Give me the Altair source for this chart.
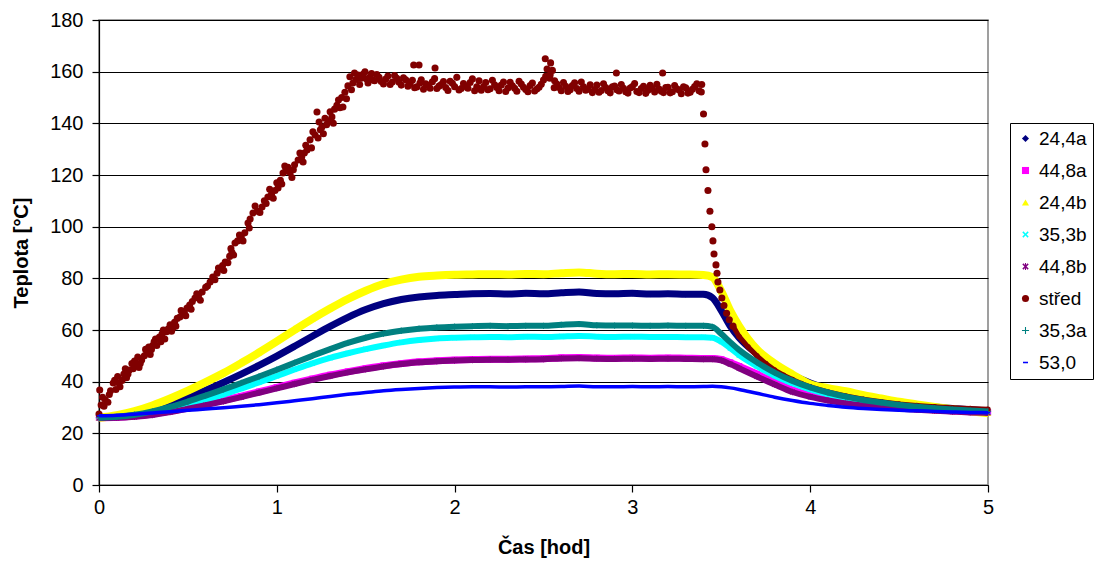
import altair as alt
import pandas as pd

# Sampling times [h] shared by the probe series
hours = [0.0, 0.1, 0.2, 0.3, 0.4, 0.5, 0.6, 0.7, 0.8, 0.9,
         1.0, 1.1, 1.2, 1.3, 1.4, 1.5, 1.6, 1.7, 1.8, 1.9,
         2.0, 2.1, 2.2, 2.3, 2.4, 2.5, 2.6, 2.7, 2.8, 2.9,
         3.0, 3.1, 3.2, 3.3, 3.4, 3.45, 3.5, 3.55, 3.6,
         3.7, 3.8, 3.9, 4.0, 4.1, 4.2, 4.3, 4.4, 4.5, 4.6, 4.7, 4.8, 4.9, 5.0]

temp_24_4a = [26.0, 26.5, 27.6, 29.3, 31.4, 33.9, 36.7, 39.7, 42.9, 46.3,
              49.9, 53.7, 57.6, 61.4, 64.9, 67.9, 70.2, 71.8, 72.8, 73.4,
              73.7, 74.0, 74.1, 73.9, 74.2, 74.0, 74.4, 74.7, 74.1, 74.0,
              74.2, 73.9, 74.0, 73.8, 73.8, 72.5, 67.5, 61.5, 57.0,
              50.8, 46.2, 42.5, 39.5, 37.2, 35.4, 33.9, 32.7, 31.7, 30.9, 30.2, 29.6, 29.1, 28.7]

temp_44_8a = [26.0, 26.2, 26.7, 27.5, 28.6, 29.9, 31.3, 32.8, 34.4, 36.1,
              37.8, 39.5, 41.1, 42.6, 43.9, 45.1, 46.2, 47.0, 47.7, 48.1,
              48.4, 48.6, 48.7, 48.7, 48.8, 48.9, 49.3, 49.4, 49.2, 49.1,
              49.2, 49.1, 49.2, 49.1, 49.0, 49.0, 48.6, 47.4, 46.0,
              43.0, 39.8, 36.8, 34.8, 33.3, 32.2, 31.3, 30.6, 30.0, 29.5, 29.1, 28.7, 28.4, 28.1]

temp_24_4b = [26.0, 27.0, 28.6, 30.8, 33.5, 36.5, 39.8, 43.3, 47.2, 51.3,
              55.6, 60.0, 64.3, 68.3, 72.0, 75.2, 77.8, 79.5, 80.6, 81.1,
              81.4, 81.5, 81.6, 81.5, 81.7, 81.6, 82.0, 82.3, 81.8, 81.6,
              81.7, 81.5, 81.6, 81.5, 81.3, 80.5, 75.0, 67.5, 61.5,
              52.5, 47.0, 42.8, 39.0, 37.5, 36.3, 34.8, 33.5, 32.2, 31.2, 30.2, 29.3, 28.5, 27.8]

temp_35_3b = [26.0, 26.3, 26.9, 27.9, 29.3, 31.0, 32.9, 35.0, 37.3, 39.7,
              42.2, 44.7, 47.1, 49.2, 51.0, 52.6, 54.0, 55.2, 56.1, 56.7,
              57.0, 57.2, 57.3, 57.2, 57.4, 57.3, 57.5, 57.7, 57.4, 57.3,
              57.4, 57.3, 57.3, 57.2, 57.2, 57.0, 55.5, 53.0, 50.3,
              46.0, 42.3, 39.4, 37.0, 35.1, 33.6, 32.4, 31.4, 30.6, 29.9, 29.4, 28.9, 28.5, 28.2]

temp_44_8b = [25.9, 26.0, 26.4, 27.1, 28.2, 29.5, 30.9, 32.4, 34.0, 35.7,
              37.4, 39.1, 40.7, 42.2, 43.6, 44.8, 45.9, 46.8, 47.5, 47.9,
              48.2, 48.4, 48.5, 48.5, 48.6, 48.7, 49.0, 49.1, 48.9, 48.8,
              48.9, 48.8, 48.9, 48.8, 48.7, 48.7, 48.2, 46.8, 45.2,
              42.0, 38.9, 36.0, 34.1, 32.7, 31.6, 30.8, 30.1, 29.6, 29.1, 28.7, 28.4, 28.1, 27.9]

temp_35_3a = [26.0, 26.4, 27.2, 28.5, 30.2, 32.3, 34.6, 37.0, 39.5, 42.0,
              44.6, 47.3, 50.0, 52.6, 55.0, 57.0, 58.6, 59.7, 60.5, 61.0,
              61.3, 61.5, 61.6, 61.5, 61.6, 61.6, 62.0, 62.3, 61.8, 61.7,
              61.7, 61.6, 61.7, 61.6, 61.6, 61.2, 58.5, 55.3, 52.3,
              47.5, 43.5, 40.3, 37.8, 35.8, 34.2, 32.9, 31.9, 31.0, 30.3, 29.7, 29.2, 28.8, 28.5]

temp_53_0 = [26.8, 27.0, 27.4, 27.9, 28.4, 28.9, 29.4, 29.9, 30.5, 31.1,
             31.8, 32.6, 33.4, 34.3, 35.1, 35.8, 36.5, 37.0, 37.4, 37.7,
             37.9, 38.0, 38.0, 37.9, 38.0, 38.0, 38.1, 38.3, 38.0, 38.0,
             38.1, 38.0, 38.1, 38.0, 38.1, 38.2, 38.0, 37.6, 37.0,
             35.5, 34.0, 32.7, 31.6, 30.8, 30.1, 29.6, 29.2, 28.9, 28.7, 28.5, 28.3, 28.1, 28.0]

# Centre probe ("střed"): individual readings
stred_hours = [0.000, 0.004, 0.012, 0.020, 0.035, 0.050, 0.065, 0.080, 0.095, 0.105,
               0.118, 0.130, 0.140, 0.155, 0.170, 0.185, 0.200, 0.210, 0.225, 0.240,
               0.255, 0.270, 0.280, 0.295, 0.310, 0.325, 0.340, 0.355, 0.370, 0.380,
               0.390, 0.400, 0.415, 0.425, 0.440, 0.455, 0.470, 0.480, 0.495, 0.510,
               0.525, 0.540, 0.560, 0.580, 0.600, 0.625, 0.640, 0.664, 0.680, 0.695,
               0.710, 0.725, 0.735, 0.748, 0.765, 0.780, 0.800, 0.820, 0.838, 0.850,
               0.866, 0.890, 0.917, 0.930, 0.950, 0.970, 0.990, 1.007, 1.020, 1.035,
               1.050, 1.063, 1.075, 1.085, 1.100, 1.120, 1.140, 1.155, 1.170, 1.187,
               1.203, 1.215, 1.226, 1.232, 1.245, 1.254, 1.271, 1.290, 1.310, 1.325,
               1.338, 1.355, 1.372, 1.383, 1.400, 1.411, 1.428, 1.445, 1.457, 1.475,
               1.496, 1.513, 1.525, 1.541,
               1.550, 1.575, 1.600, 1.625, 1.650, 1.675, 1.700, 1.725, 1.750, 1.770,
               1.775, 1.800, 1.805, 1.825, 1.850, 1.875, 1.890, 1.900, 1.925, 1.950,
               1.975, 2.000, 2.025, 2.050, 2.075, 2.100, 2.125, 2.150, 2.175, 2.200,
               2.225, 2.250, 2.275, 2.300, 2.325, 2.350, 2.375, 2.400, 2.425, 2.450,
               2.475, 2.500, 2.510, 2.520, 2.535, 2.540, 2.550, 2.560, 2.575, 2.600,
               2.625, 2.650, 2.675, 2.700, 2.725, 2.750, 2.775, 2.800, 2.825, 2.850,
               2.875, 2.900, 2.910, 2.925, 2.950, 2.975, 3.000, 3.025, 3.050, 3.075,
               3.100, 3.125, 3.150, 3.170, 3.175, 3.200, 3.225, 3.250, 3.275, 3.300,
               3.325, 3.350, 3.375, 3.390,
               3.400, 3.408, 3.414, 3.425, 3.436, 3.447, 3.453, 3.459, 3.470, 3.476,
               3.481, 3.492, 3.503, 3.515, 3.530, 3.545, 3.566]
stred_temp = [27.5, 36.8, 31.0, 34.0, 33.0, 32.0, 36.5, 39.5, 37.0, 42.0,
              38.0, 40.5, 43.0, 41.5, 44.5, 47.0, 48.0, 46.5, 45.5, 48.4,
              50.0, 51.5, 53.4, 52.5, 55.4, 54.0, 57.3, 58.5, 56.5, 59.3,
              60.5, 62.0, 60.8, 63.0, 64.5, 65.0, 66.3, 67.0, 68.5, 69.7,
              71.0, 72.4, 73.5, 74.7, 76.5, 78.6, 80.5, 82.0, 83.5, 85.0,
              86.3, 86.0, 88.5, 90.0, 93.7, 94.5, 96.0, 97.6, 101.4, 103.0,
              105.3, 106.0, 107.6, 110.0, 111.5, 112.5, 114.0, 115.0, 118.0, 120.8,
              121.5, 123.0, 121.0, 119.0, 124.0, 125.8, 127.0, 128.5, 129.7, 133.6,
              136.7, 135.5, 144.4, 134.3, 137.5, 138.6, 142.0, 141.0, 142.5, 145.5,
              147.0, 146.0, 146.3, 152.0, 154.5, 158.0, 155.6, 157.0, 158.7, 157.5,
              160.0, 155.6, 158.0, 156.8,
              156.5, 157.8, 155.2, 158.3, 156.0, 157.4, 154.8, 156.9, 155.3, 162.6,
              153.8, 162.6, 155.6, 153.2, 154.7, 156.1, 161.4, 153.5, 155.0, 153.9,
              156.3, 154.2, 152.9, 155.4, 153.6, 157.2, 154.1, 152.8, 155.8, 153.4,
              154.9, 152.6, 156.0, 153.7, 154.5, 152.4, 155.2, 153.1, 154.6, 152.5,
              154.0, 156.8, 165.0, 161.0, 157.5, 163.4, 160.5, 153.8, 155.2, 152.6,
              154.3, 153.0, 155.7, 152.4, 154.1, 153.2, 151.9, 154.8, 152.7, 153.9,
              151.8, 154.4, 159.5, 152.5, 153.6, 151.7, 154.2, 152.3, 153.5, 151.6,
              154.7, 152.1, 153.3, 159.5, 151.9, 154.0, 152.2, 153.4, 151.5, 153.8,
              152.0, 154.2, 152.6, 155.0,
              143.6, 132.0, 122.0, 114.0, 106.0, 100.0, 94.5, 89.4, 85.2, 82.0,
              78.6, 75.5, 72.4, 69.5, 66.5, 64.0, 61.5]

# Additional centre-probe readings between the ones above
stred_more_hours = [0.028, 0.058, 0.088, 0.112, 0.148, 0.163, 0.192, 0.218, 0.232, 0.262,
                    0.288, 0.302, 0.318, 0.348, 0.362, 0.408, 0.432, 0.462, 0.488, 0.518,
                    0.550, 0.570, 0.610, 0.652, 0.672, 0.702, 0.742, 0.757, 0.790, 0.810,
                    0.845, 0.878, 0.905, 0.940, 0.960, 0.980, 1.000, 1.028, 1.045, 1.093,
                    1.130, 1.148, 1.163, 1.195, 1.238, 1.262, 1.280, 1.300, 1.318, 1.347,
                    1.365, 1.392, 1.420, 1.437, 1.466, 1.485, 1.505, 1.533,
                    1.5625, 1.5875, 1.6125, 1.6375, 1.6625, 1.6875, 1.7125, 1.7375, 1.7625, 1.7875,
                    1.8125, 1.8375, 1.8625, 1.8875, 1.9125, 1.9375, 1.9625, 1.9875, 2.0125, 2.0375,
                    2.0625, 2.0875, 2.1125, 2.1375, 2.1625, 2.1875, 2.2125, 2.2375, 2.2625, 2.2875,
                    2.3125, 2.3375, 2.3625, 2.3875, 2.4125, 2.4375, 2.4625, 2.4875, 2.5125, 2.5375,
                    2.5625, 2.5875, 2.6125, 2.6375, 2.6625, 2.6875, 2.7125, 2.7375, 2.7625, 2.7875,
                    2.8125, 2.8375, 2.8625, 2.8875, 2.9125, 2.9375, 2.9625, 2.9875, 3.0125, 3.0375,
                    3.0625, 3.0875, 3.1125, 3.1375, 3.1625, 3.1875, 3.2125, 3.2375, 3.2625, 3.2875,
                    3.3125, 3.3375, 3.3625, 3.3875]
stred_more_temp = [30.5, 35.0, 40.5, 39.5, 45.0, 43.0, 45.0, 49.5, 47.0, 52.5,
                   50.5, 54.0, 56.5, 55.5, 60.0, 59.5, 61.5, 67.5, 65.5, 68.0,
                   74.0, 71.5, 77.0, 79.5, 84.0, 83.0, 91.5, 89.0, 96.8, 94.5,
                   99.5, 108.0, 105.5, 109.0, 114.5, 111.0, 117.0, 116.5, 123.5, 122.0,
                   128.5, 125.0, 131.5, 130.5, 140.5, 136.0, 139.5, 144.5, 140.0, 149.0,
                   150.0, 149.5, 153.0, 159.5, 155.0, 159.0, 157.2, 159.3,
                   158.9, 156.2, 157.1, 155.0, 158.5, 155.9, 157.6, 154.4, 156.7, 154.1,
                   156.9, 155.3, 153.6, 157.3, 154.4, 156.2, 152.7, 155.5, 157.8, 153.5,
                   154.3, 155.8, 152.6, 156.5, 154.2, 153.0, 156.7, 153.9, 154.8, 152.3,
                   155.9, 153.6, 156.3, 154.0, 152.2, 155.6, 153.3, 155.1, 158.2, 158.8,
                   156.5, 153.9, 155.8, 152.3, 154.6, 153.5, 156.0, 152.8, 154.9, 153.1,
                   152.0, 155.3, 152.6, 154.1, 153.0, 155.0, 152.2, 153.7, 155.4, 151.9,
                   154.3, 152.8, 153.5, 155.1, 152.4, 153.9, 151.8, 154.6, 152.9, 154.1,
                   151.7, 153.2, 155.3, 152.1]

# Centre probe cooling tail (dense readings merge into a line)
stred_tail_hours = [3.566, 3.60, 3.65, 3.70, 3.75, 3.80, 3.85, 3.90, 3.95, 4.00,
                    4.10, 4.20, 4.30, 4.40, 4.50, 4.60, 4.70, 4.80, 4.90, 5.00]
stred_tail_temp = [61.5, 57.5, 53.5, 50.0, 47.0, 44.5, 42.5, 40.8, 39.3, 38.0,
                   36.0, 34.5, 33.2, 32.2, 31.4, 30.8, 30.3, 29.9, 29.6, 29.3]

series_names = ["24,4a", "44,8a", "24,4b", "35,3b", "44,8b", "střed", "35,3a", "53,0"]
series_colors = ["#000080", "#FF00FF", "#FFFF00", "#00FFFF", "#800080", "#800000", "#008080", "#0000FF"]

X_PATH = "M-0.9,-0.6L-0.6,-0.9L0,-0.3L0.6,-0.9L0.9,-0.6L0.3,0L0.9,0.6L0.6,0.9L0,0.3L-0.6,0.9L-0.9,0.6L-0.3,0Z"
STAR_PATH = X_PATH + "M-0.15,-1L0.15,-1L0.15,1L-0.15,1Z"
PLUS_PATH = ("M-1,-0.15L-0.15,-0.15L-0.15,-1L0.15,-1L0.15,-0.15L1,-0.15L1,0.15"
             "L0.15,0.15L0.15,1L-0.15,1L-0.15,0.15L-1,0.15Z")
DASH_PATH = "M-0.7,-0.22L0.7,-0.22L0.7,0.22L-0.7,0.22Z"
series_shapes = ["diamond", "square", "triangle-up", X_PATH, STAR_PATH, "circle", PLUS_PATH, DASH_PATH]

probe_values = {
    "24,4a": temp_24_4a,
    "44,8a": temp_44_8a,
    "24,4b": temp_24_4b,
    "35,3b": temp_35_3b,
    "44,8b": temp_44_8b,
    "35,3a": temp_35_3a,
    "53,0": temp_53_0,
}
line_widths = {"24,4a": 7, "44,8a": 7, "24,4b": 8, "35,3b": 6, "44,8b": 6, "35,3a": 6, "53,0": 3.5}

FONT = "Liberation Sans"

x_enc = alt.X("hour:Q", scale=alt.Scale(domain=[0, 5], nice=False),
              axis=alt.Axis(title="Čas [hod]", values=[0, 1, 2, 3, 4, 5], format="d",
                            grid=False, labelFlush=False))
y_enc = alt.Y("temp:Q", scale=alt.Scale(domain=[0, 180], nice=False),
              axis=alt.Axis(title="Teplota [°C]", values=list(range(0, 181, 20)), grid=True))
color_enc = alt.Color("series:N", scale=alt.Scale(domain=series_names, range=series_colors),
                      legend=alt.Legend(title=None))
shape_enc = alt.Shape("series:N", scale=alt.Scale(domain=series_names, range=series_shapes),
                      legend=alt.Legend(title=None))

layers = []
for idx, name in enumerate(series_names):
    col = series_colors[idx]
    if name == "střed":
        tail = pd.DataFrame({"hour": stred_tail_hours, "temp": stred_tail_temp, "series": name})
        pts = pd.DataFrame({"hour": stred_hours + stred_more_hours,
                            "temp": stred_temp + stred_more_temp, "series": name})
        layers.append(alt.Chart(tail).mark_line(strokeWidth=5, color=col)
                      .encode(x=x_enc, y=y_enc))
        layers.append(alt.Chart(pts).mark_point(filled=True, size=50, opacity=1)
                      .encode(x=x_enc, y=y_enc, color=color_enc, shape=shape_enc))
        layers.append(alt.Chart(tail).mark_point(filled=True, size=30, opacity=1)
                      .encode(x=x_enc, y=y_enc, color=color_enc, shape=shape_enc))
    else:
        df = pd.DataFrame({"hour": hours, "temp": probe_values[name], "series": name})
        layers.append(alt.Chart(df).mark_line(strokeWidth=line_widths[name], color=col,
                                              interpolate="monotone")
                      .encode(x=x_enc, y=y_enc))
        layers.append(alt.Chart(df).mark_point(filled=True, size=40, opacity=1)
                      .encode(x=x_enc, y=y_enc, color=color_enc, shape=shape_enc))

chart = (
    alt.layer(*layers)
    .properties(
        width=889,
        height=465,
        autosize=alt.AutoSizeParams(type="none"),
        padding={"left": 99, "top": 20, "right": 109, "bottom": 79},
        background="white",
    )
    .configure_view(stroke="#808080", strokeWidth=1.5)
    .configure_axis(
        labelFont=FONT, labelFontSize=20, labelColor="black",
        titleFont=FONT, titleFontSize=20, titleFontWeight="bold", titleColor="black",
        domainColor="black", domainWidth=1.2, tickColor="black", tickSize=7, tickWidth=1.2,
        gridColor="black", gridWidth=1.2, gridOpacity=1,
    )
    .configure_axisX(labelPadding=5, titlePadding=20)
    .configure_axisY(labelPadding=9, titlePadding=18)
    .configure_legend(
        orient="none", legendX=911, legendY=103,
        strokeColor="black", strokeWidth=1, fillColor="white",
        padding=6, rowPadding=12, labelFont=FONT, labelFontSize=19, labelColor="black",
        symbolSize=50, symbolStrokeWidth=0, labelOffset=4,
    )
)

chart.save("out.html", embed_options={"renderer": "svg", "actions": False})
